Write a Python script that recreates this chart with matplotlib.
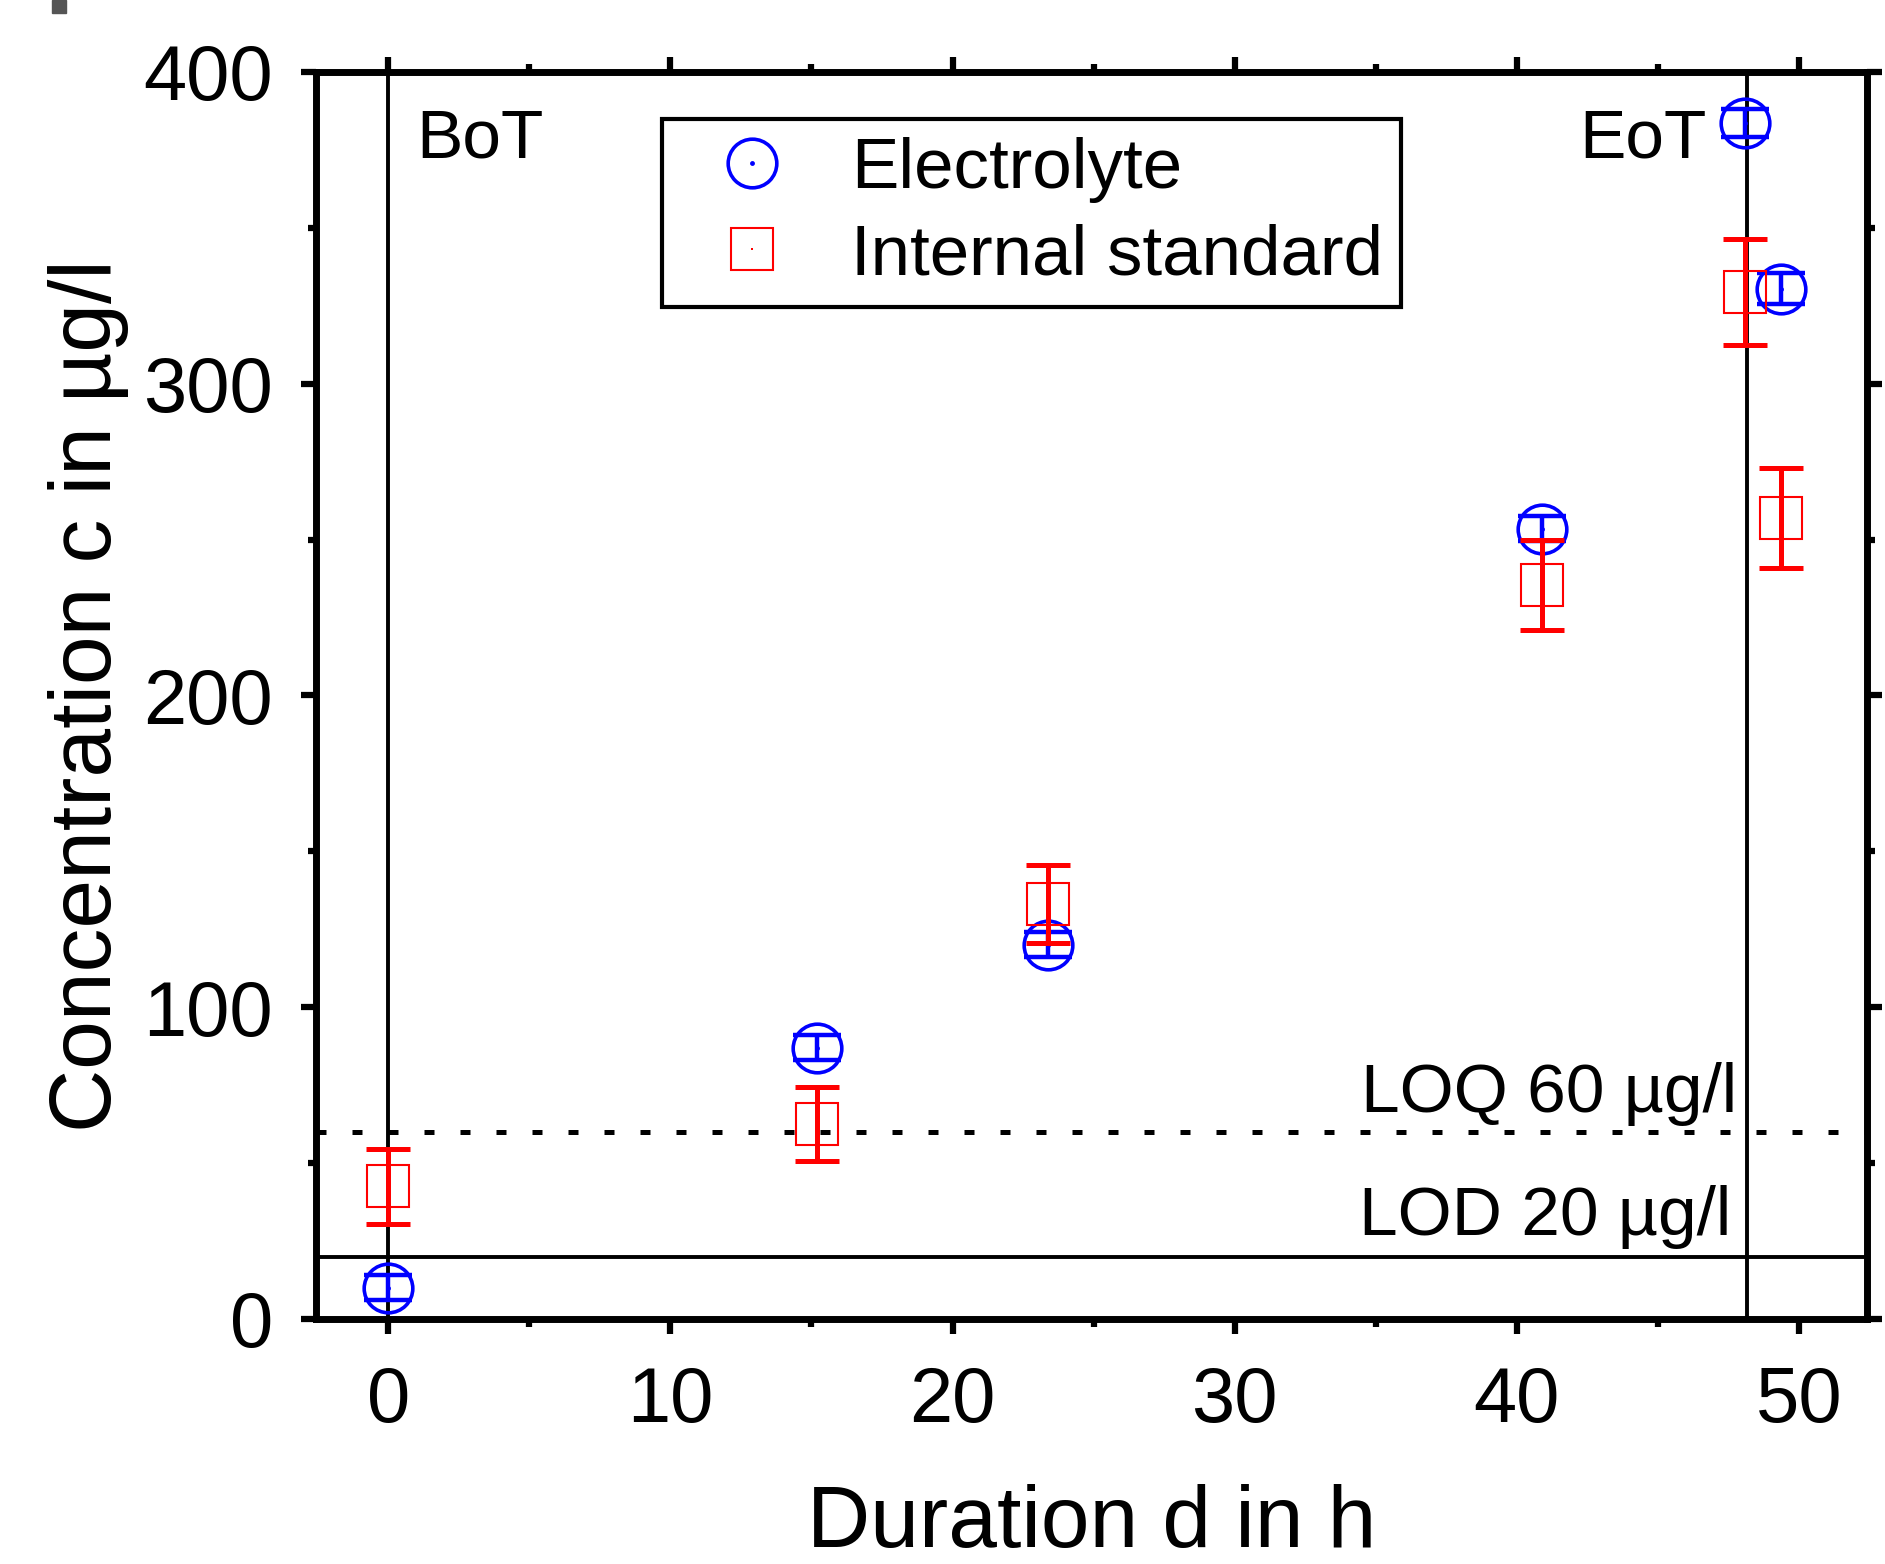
import matplotlib
matplotlib.use("Agg")
import matplotlib.pyplot as plt
from matplotlib.lines import Line2D
from matplotlib.patches import Rectangle

plt.rcParams['font.family'] = ['Liberation Sans', 'DejaVu Sans']

# ---- data ----
elec_x = [0.0, 15.2, 23.4, 40.9, 48.1, 49.35]
elec_y = [10.0, 87.0, 120.0, 253.5, 383.5, 330.5]
elec_err = [4.0, 4.0, 4.0, 4.0, 4.5, 5.0]

istd_x = [0.0, 15.2, 23.4, 40.9, 48.1, 49.35]
istd_y = [42.5, 62.5, 133.0, 235.5, 329.5, 257.0]
istd_err = [12.0, 12.0, 12.5, 14.5, 17.0, 16.0]

bot_x = 0.0
eot_x = 48.15
lod = 20
loq = 60

xticks = [0, 10, 20, 30, 40, 50]
yticks = [0, 100, 200, 300, 400]

fig = plt.figure(figsize=(18.85, 15.64), dpi=100)
ax = fig.add_axes([0.1676, 0.1567, 0.8229, 0.7973])

# reference lines
ax.axvline(bot_x, color='black', lw=2.8, zorder=1)
ax.axvline(eot_x, color='black', lw=2.8, zorder=1)
ax.axhline(lod, color='black', lw=2.8, zorder=1)
ax.axhline(loq, color='black', lw=3.6, ls=(0, (2, 5.2)), zorder=1)

# electrolyte
ax.errorbar(elec_x, elec_y, yerr=elec_err, fmt='none', ecolor='blue',
            elinewidth=3.2, capsize=17, capthick=3.2, zorder=3)
ax.plot(elec_x, elec_y, 'o', ms=35, mfc='none', mec='blue', mew=2.6, zorder=3)
ax.plot(elec_x, elec_y, 'o', ms=3.5, mfc='blue', mec='blue', mew=0, zorder=3)

# internal standard
ax.plot(istd_x, istd_y, 's', ms=30, mfc='none', mec='red', mew=1.5, zorder=4)
ax.plot(istd_x, istd_y, 's', ms=1.5, mfc='red', mec='red', mew=0, zorder=4)
ax.errorbar(istd_x, istd_y, yerr=istd_err, fmt='none', ecolor='red',
            elinewidth=3.6, capsize=16, capthick=3.6, zorder=5)

ax.set_xlim(-2.56, 52.41)
ax.set_ylim(0, 400)
ax.set_xticks(xticks)
ax.set_yticks(yticks)
ax.set_xticks([5, 15, 25, 35, 45], minor=True)
ax.set_yticks([50, 150, 250, 350], minor=True)

for s in ax.spines.values():
    s.set_linewidth(5)
ax.tick_params(which='both', direction='out', top=True, right=True, width=4.5)
ax.tick_params(which='major', length=11, labelsize=56)
ax.tick_params(which='minor', length=6)
ax.tick_params(axis='x', which='major', pad=22)
ax.tick_params(axis='y', which='major', pad=20)

ax.set_xlabel('Duration d in h', fontsize=63, labelpad=33)
ax.set_ylabel('Concentration c in µg/l', fontsize=63, labelpad=10)

# annotations
ax.text(1.0, 372.6, 'BoT', fontsize=50, ha='left', va='baseline')
ax.text(46.74, 372.6, 'EoT', fontsize=50, ha='right', va='baseline')
ax.text(47.8, 66.3, 'LOQ 60 µg/l', fontsize=50, ha='right', va='baseline')
ax.text(47.6, 27.0, 'LOD 20 µg/l', fontsize=50, ha='right', va='baseline')

# legend
h1 = (Line2D([], [], ls='none', marker='o', ms=35, mfc='none', mec='blue', mew=2.6),
      Line2D([], [], ls='none', marker='o', ms=3.5, mfc='blue', mec='blue', mew=0))
h2 = (Line2D([], [], ls='none', marker='s', ms=30, mfc='none', mec='red', mew=1.5),
      Line2D([], [], ls='none', marker='s', ms=1.5, mfc='red', mec='red', mew=0))
leg = ax.legend([h1, h2], ['Electrolyte', 'Internal standard'], fontsize=51,
                loc='upper left', bbox_to_anchor=(0.2233, 0.9624), borderaxespad=0,
                frameon=True, fancybox=False, edgecolor='black', framealpha=1,
                handlelength=2.02, handletextpad=0.4, borderpad=0.25,
                labelspacing=0.29)
leg.get_frame().set_linewidth(3)

# small grey mark at top-left corner (cropped panel label)
fig.patches.append(Rectangle((52 / 1885, 1 - 13 / 1564), 14 / 1885, 13 / 1564,
                             transform=fig.transFigure, color='#555555'))

fig.savefig('out.png', dpi=100)
